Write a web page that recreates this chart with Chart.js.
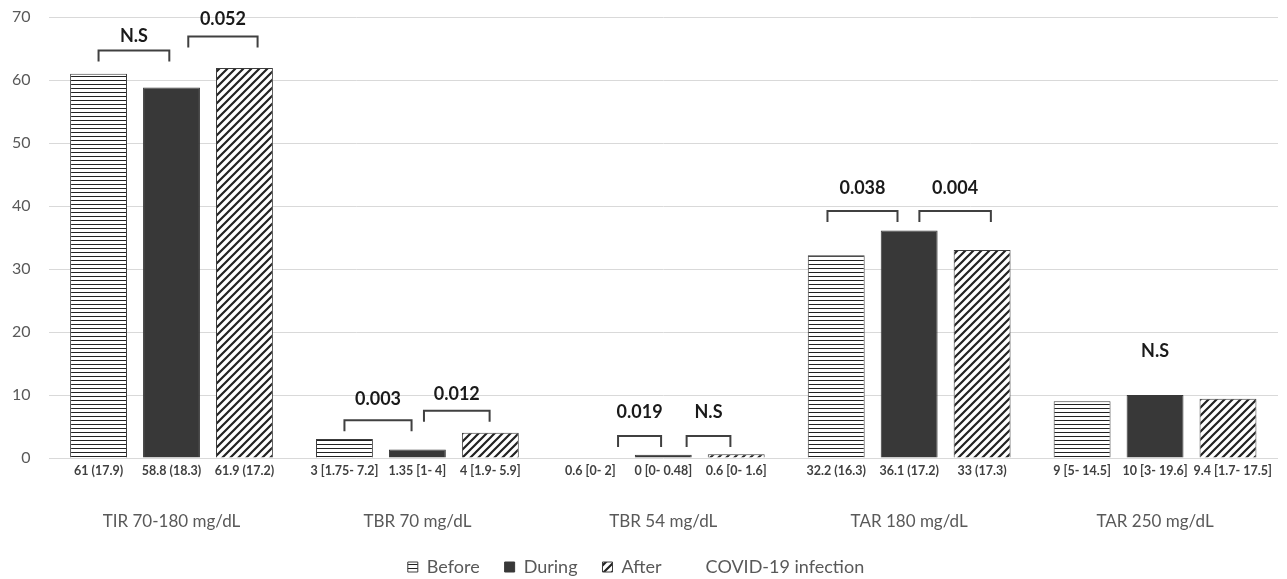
<!DOCTYPE html>
<html>
<head>
<meta charset="utf-8">
<script src="https://cdn.jsdelivr.net/npm/chart.js@4/dist/chart.umd.min.js"></script>
<style>
  html, body { margin: 0; padding: 0; background: #fff; }
  #wrap { width: 1287px; height: 579px; position: relative; }
</style>
</head>
<body>
<div id="wrap"><canvas id="tirChart"></canvas></div>
<script>
// categories and values
const categories = ['TIR 70-180 mg/dL', 'TBR 70 mg/dL', 'TBR 54 mg/dL', 'TAR 180 mg/dL', 'TAR 250 mg/dL'];
const beforeVals = [61, 3, 0, 32.2, 9];
const duringVals = [58.8, 1.35, 0.5, 36.1, 10];
const afterVals = [61.9, 4, 0.6, 33, 9.4];
const beforeText = ['61 (17.9)', '3 [1.75- 7.2]', '0.6 [0- 2]', '32.2 (16.3)', '9 [5- 14.5]'];
const duringText = ['58.8 (18.3)', '1.35 [1- 4]', '0 [0- 0.48]', '36.1 (17.2)', '10 [3- 19.6]'];
const afterText = ['61.9 (17.2)', '4 [1.9- 5.9]', '0.6 [0- 1.6]', '33 (17.3)', '9.4 [1.7- 17.5]'];
const yTicks = [0, 10, 20, 30, 40, 50, 60, 70];

// p-value brackets (slot positions inside a group, values in y units)
const pLabels = ['N.S', '0.052', '0.003', '0.012', '0.019', 'N.S', '0.038', '0.004', 'N.S'];
const pCat    = [0, 0, 1, 1, 2, 2, 3, 3, 4];
const pFrom   = [0, 1.23, 0, 1.09, 0.38, 1.32, -0.12, 1.14, 1];
const pTo     = [0.97, 2.18, 0.92, 1.99, 0.97, 1.92, 0.84, 2.12, 1];
const pTop    = [64.7, 66.9, 6.0, 7.5, 3.5, 3.5, 39.2, 39.2, null];
const pTextY  = [66.9, 69.6, 9.4, 10.1, 7.2, 7.2, 42.9, 42.9, 17.0];

const FONT = 'Lato, "Noto Sans", sans-serif';

function makePattern(kind) {
  const c = document.createElement('canvas');
  const g = c.getContext('2d');
  if (kind === 'h') {
    c.width = 8; c.height = 4;
    g.fillStyle = '#fff'; g.fillRect(0, 0, 8, 4);
    g.fillStyle = '#222'; g.fillRect(0, 0, 8, 1);
  } else {
    c.width = 8; c.height = 8;
    g.fillStyle = '#fff'; g.fillRect(0, 0, 8, 8);
    g.strokeStyle = '#222'; g.lineWidth = 2.2;
    g.beginPath();
    g.moveTo(-2, 10); g.lineTo(10, -2);
    g.moveTo(-2, 2); g.lineTo(2, -2);
    g.moveTo(6, 10); g.lineTo(10, 6);
    g.stroke();
  }
  return g.createPattern(c, 'repeat');
}

const hPattern = makePattern('h');
const dPattern = makePattern('d');

// labels under each bar + p-value brackets
const annotations = {
  id: 'annotations',
  afterDatasetsDraw(chart) {
    const ctx = chart.ctx;
    const y = chart.scales.y;
    const m0 = chart.getDatasetMeta(0), m1 = chart.getDatasetMeta(1), m2 = chart.getDatasetMeta(2);
    const texts = [beforeText, duringText, afterText];
    ctx.save();
    ctx.fillStyle = '#404040';
    ctx.font = 'bold 12.5px ' + FONT;
    ctx.textAlign = 'center';
    ctx.textBaseline = 'middle';
    categories.forEach((c, j) => {
      let lastRight = -Infinity;
      [m0, m1, m2].forEach((m, i) => {
        const t = texts[i][j];
        const w = ctx.measureText(t).width;
        let cx = m.data[j].x;
        // push right if it would run into the previous label
        if (cx - w / 2 < lastRight + 6) cx = lastRight + 6 + w / 2;
        ctx.fillText(t, cx, chart.chartArea.bottom + 13);
        lastRight = cx + w / 2;
      });
    });

    ctx.strokeStyle = '#404040';
    ctx.lineWidth = 2;
    ctx.font = 'bold 18px ' + FONT;
    pLabels.forEach((lab, k) => {
      const x0 = m0.data[pCat[k]].x;
      const pitch = m1.data[pCat[k]].x - x0;
      const xa = x0 + pFrom[k] * pitch;
      const xb = x0 + pTo[k] * pitch;
      if (pTop[k] !== null) {
        const yt = y.getPixelForValue(pTop[k]);
        ctx.beginPath();
        ctx.moveTo(xa, yt + 11);
        ctx.lineTo(xa, yt);
        ctx.lineTo(xb, yt);
        ctx.lineTo(xb, yt + 11);
        ctx.stroke();
      }
      ctx.fillStyle = '#1a1a1a';
      ctx.fillText(lab, (xa + xb) / 2, y.getPixelForValue(pTextY[k]));
    });
    ctx.restore();
  }
};

const ctx = document.getElementById('tirChart').getContext('2d');
const tirChart = new Chart(ctx, {
  type: 'bar',
  data: {
    labels: categories,
    datasets: [
      { label: 'Before', data: beforeVals, backgroundColor: hPattern, borderColor: '#3c3c3c', borderWidth: 1 },
      { label: 'During', data: duringVals, backgroundColor: '#383838', borderColor: '#383838', borderWidth: 1 },
      { label: 'After', data: afterVals, backgroundColor: dPattern, borderColor: '#3c3c3c', borderWidth: 1 }
    ]
  },
  options: {
    responsive: true,
    maintainAspectRatio: false,
    animation: false,
    categoryPercentage: 0.89,
    barPercentage: 0.78,
    layout: { padding: { left: -6, right: 9, top: 17, bottom: -7 } },
    plugins: {
      tooltip: { enabled: false },
      legend: {
        position: 'bottom',
        labels: {
          boxWidth: 10,
          boxHeight: 10,
          padding: 25,
          color: '#595959',
          font: { family: FONT, size: 18 },
          generateLabels(chart) {
            const items = Chart.defaults.plugins.legend.labels.generateLabels(chart);
            items.forEach(it => { it.lineWidth = 1; });
            items.push({ text: 'COVID-19 infection', fillStyle: 'rgba(0,0,0,0)', strokeStyle: 'rgba(0,0,0,0)', lineWidth: 0, hidden: false, datasetIndex: -1 });
            return items;
          }
        }
      }
    },
    scales: {
      x: {
        grid: { display: false, drawTicks: false },
        border: { display: false },
        ticks: { color: '#595959', font: { family: FONT, size: 17 }, padding: 53, maxRotation: 0 },
        afterFit(s) { s.height = 75; }
      },
      y: {
        min: 0,
        max: 70,
        afterBuildTicks(s) { s.ticks = yTicks.map(v => ({ value: v })); },
        afterFit(s) { s.paddingTop = 0; },
        grid: { color: '#d9d9d9', lineWidth: 1, drawTicks: false },
        border: { display: false },
        ticks: { color: '#595959', font: { family: FONT, size: 16 }, padding: 18 }
      }
    }
  },
  plugins: [annotations]
});
</script>
</body>
</html>
